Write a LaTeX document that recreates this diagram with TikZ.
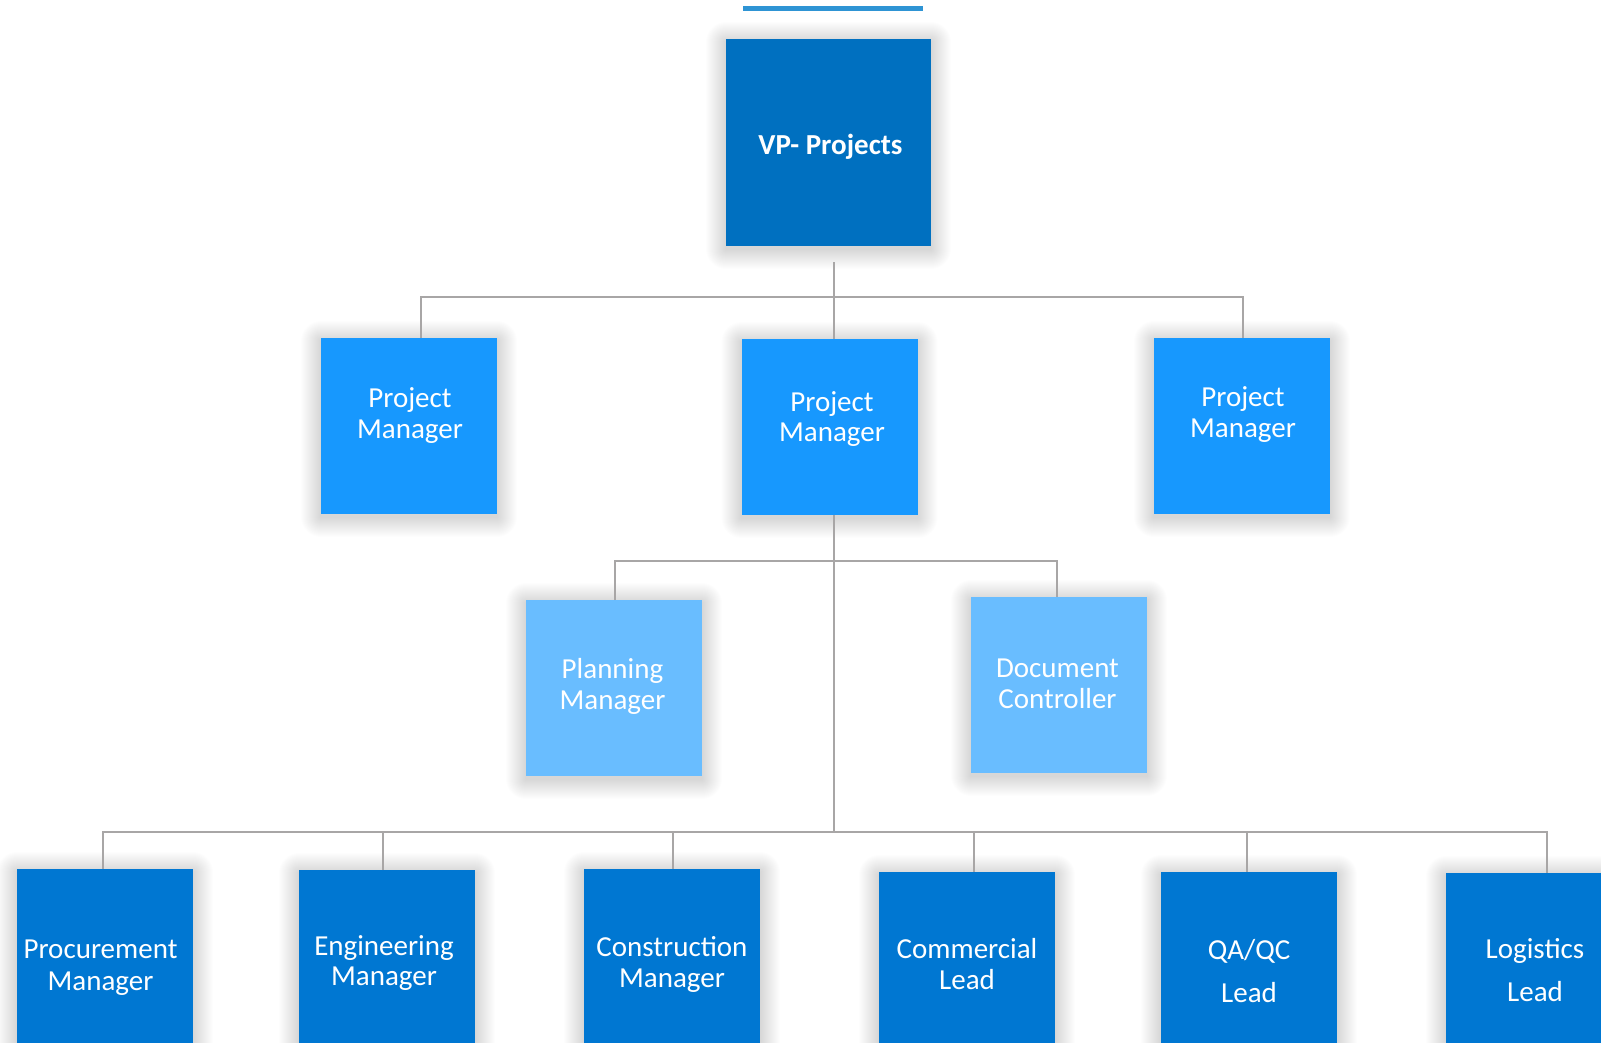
\documentclass[tikz,border=0pt]{standalone}
\usepackage{fontspec}
\setmainfont{Carlito}
\definecolor{vpblue}{HTML}{0070C0}
\definecolor{pmblue}{HTML}{1798FE}
\definecolor{lightblue}{HTML}{69BDFF}
\definecolor{lowblue}{HTML}{0077D2}
\definecolor{conngray}{HTML}{A8A6A6}
\definecolor{topline}{HTML}{2E94D4}
\pgfdeclarelayer{bg}
\pgfsetlayers{bg,main}
\newcommand\twoline[3]{\vtop{\baselineskip=#3\lineskiplimit=-1000pt\lineskip=0pt\halign{\hfil##\hfil\cr#1\cr#2\cr}}}
\begin{document}
\begin{tikzpicture}[x=1pt,y=-1pt,
  box/.style={draw=none, minimum width=176pt, minimum height=176pt, inner sep=0pt, outer sep=0pt},
  txt/.style={text=white, font=\fontsize{29}{30}\selectfont, inner sep=0pt, anchor=base},
  conn/.style={draw=conngray, line width=2.6pt}]
\useasboundingbox (0,0) rectangle (1601,1043);
\begin{scope}
\clip (0,0) rectangle (1601,1043);
% top rule
\draw[topline, line width=5pt] (743,8.5) -- (923,8.5);

% boxes
\node[box, fill=vpblue, minimum width=205pt, minimum height=207pt] (vp) at (828.5,142.5) {};
\node[txt, font=\bfseries\fontsize{29}{30}\selectfont] (vpt) at (830.5,154.5) {VP- Projects};

\node[box, fill=pmblue] (pm1) at (409,426) {};
\node[txt] (pm1t) at (410,407.5) {\twoline{Project}{Manager}{30.5pt}};
\node[box, fill=pmblue] (pm2) at (829.5,427) {};
\node[txt] (pm2t) at (832,411) {\twoline{Project}{Manager}{30.5pt}};
\node[box, fill=pmblue] (pm3) at (1242,426) {};
\node[txt] (pm3t) at (1243,406.5) {\twoline{Project}{Manager}{30.5pt}};

\node[box, fill=lightblue] (plan) at (614,688) {};
\node[txt] (plant) at (612.5,678.5) {\twoline{Planning}{Manager}{31pt}};
\node[box, fill=lightblue] (doc) at (1059,685) {};
\node[txt] (doct) at (1057.5,677) {\twoline{Document}{Controller}{31.3pt}};

\node[box, fill=lowblue] (proc) at (105,957) {};
\node[txt] (proct) at (100.5,958) {\twoline{Procurement}{Manager}{32pt}};
\node[box, fill=lowblue] (eng) at (387,958) {};
\node[txt] (engt) at (384,955.5) {\twoline{Engineering}{Manager}{30pt}};
\node[box, fill=lowblue] (cons) at (672,957) {};
\node[txt] (const) at (672,956) {\twoline{Construction}{Manager}{31.7pt}};
\node[box, fill=lowblue] (comm) at (967,960) {};
\node[txt] (commt) at (967,958) {\twoline{Commercial}{Lead}{31.5pt}};
\node[box, fill=lowblue] (qa) at (1249,960) {};
\node[txt] (qat) at (1249,959) {\twoline{QA/QC}{Lead}{43.7pt}};
\node[box, fill=lowblue] (logi) at (1534,961) {};
\node[txt] (logit) at (1535,958) {\twoline{Logistics}{Lead}{43.3pt}};

% junctions
\coordinate (j1) at (834,297);
\coordinate (j2) at (834,561);
\coordinate (j3) at (834,832);

% connectors
\path (vp.south -| j1) ++(0,16) coordinate (vpout);
\draw[conn] (vpout) -- (j1 |- pm2.north);
\draw[conn] ([xshift=12pt]pm1.north) |- (j1) -| ([xshift=1pt]pm3.north);

\draw[conn] (pm2.south -| j2) -- (j3);
\draw[conn] ([xshift=1pt]plan.north) |- (j2) -| ([xshift=-2pt]doc.north);

\draw[conn] ([xshift=-2pt]proc.north) |- (j3) -| ([xshift=13pt]logi.north);
\draw[conn] ([xshift=-4pt]eng.north) -- ([xshift=-4pt]eng.north |- j3);
\draw[conn] ([xshift=1pt]cons.north) -- ([xshift=1pt]cons.north |- j3);
\draw[conn] ([xshift=7pt]comm.north) -- ([xshift=7pt]comm.north |- j3);
\draw[conn] ([xshift=-2pt]qa.north) -- ([xshift=-2pt]qa.north |- j3);
\end{scope}

% background and soft shadows
\begin{pgfonlayer}{bg}
\fill[white] (0,0) rectangle (1601,1043);
\clip (0,0) rectangle (1601,1043);
\foreach \n in {vp,pm1,pm2,pm3,plan,doc,proc,eng,cons,comm,qa,logi}{
  \foreach \k in {1,...,20}{
    \fill[black, opacity=0.0075, rounded corners=\k pt] ([shift={({-\k pt},{-\k pt-3pt})}]\n.south west) rectangle ([shift={({\k pt},{\k pt-3pt})}]\n.north east);
  }
}
\end{pgfonlayer}
\end{tikzpicture}
\end{document}
